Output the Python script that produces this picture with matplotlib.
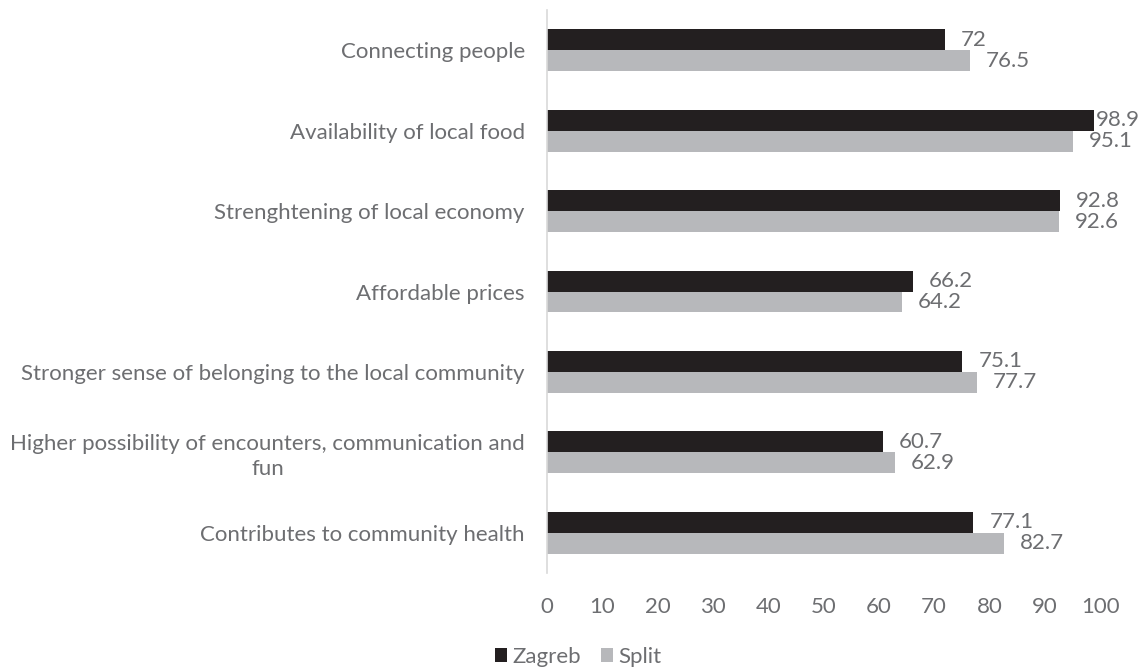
import matplotlib
matplotlib.use("Agg")
import matplotlib.pyplot as plt
import numpy as np

categories = [
    "Connecting people",
    "Availability of local food",
    "Strenghtening of local economy",
    "Affordable prices",
    "Stronger sense of belonging to the local community",
    "Higher possibility of encounters, communication and\nfun",
    "Contributes to community health",
]
zagreb = [72, 98.9, 92.8, 66.2, 75.1, 60.7, 77.1]
split = [76.5, 95.1, 92.6, 64.2, 77.7, 62.9, 82.7]
xticks = [0, 10, 20, 30, 40, 50, 60, 70, 80, 90, 100]

plt.rcParams["font.family"] = ["Lato", "DejaVu Sans"]
text_color = "#6d6e71"
dark = "#231f20"
light = "#b7b8bb"
fs = 16

fig = plt.figure(figsize=(11.46, 6.69), dpi=100)
ax = fig.add_axes([0.4773, 0.1435, 0.4826, 0.8415])

y = np.arange(len(categories))
h = 0.26
b1 = ax.barh(y - h / 2, zagreb, height=h, color=dark, label="Zagreb")
b2 = ax.barh(y + h / 2, split, height=h, color=light, label="Split")

ax.set_ylim(len(categories) - 0.5, -0.5)
ax.set_xlim(0, 100)
ax.set_yticks(y)
ax.set_yticklabels(categories, fontsize=fs, color=text_color)
ax.set_xticks(xticks)
ax.set_xticklabels([str(t) for t in xticks], fontsize=fs, color=text_color)
ax.tick_params(axis="y", length=0, pad=16)
ax.tick_params(axis="x", length=0, pad=17)
for lbl in ax.get_yticklabels():
    lbl.set_multialignment("center")
    lbl.set_linespacing(1.3)

for side in ["top", "right", "bottom"]:
    ax.spines[side].set_visible(False)
ax.spines["left"].set_color("#d9d9d9")
ax.spines["left"].set_linewidth(1.2)

# value labels outside the bar ends, pulled back inside the figure if needed
fig.canvas.draw()
renderer = fig.canvas.get_renderer()
fig_w = fig.bbox.width
for bars, vals in ((b1, zagreb), (b2, split)):
    for rect, v in zip(bars, vals):
        ann = ax.annotate(f"{v:g}", (rect.get_width(), rect.get_y() + rect.get_height() / 2),
                          xytext=(11.5, 0), textcoords="offset points", va="center",
                          ha="left", fontsize=fs, color=text_color)
        ext = ann.get_window_extent(renderer)
        over = ext.x1 - (fig_w - 6)
        if over > 0:
            ann.xyann = (11.5 - over * 72 / fig.dpi, 0)

fig.legend(handles=[b1, b2], labels=["Zagreb", "Split"], loc="center",
           bbox_to_anchor=(0.5045, 0.018), ncol=2, frameon=False, fontsize=fs,
           handlelength=0.55, handleheight=0.55, handletextpad=0.25, columnspacing=0.9,
           labelcolor=text_color)

fig.savefig("out.png", dpi=100)
